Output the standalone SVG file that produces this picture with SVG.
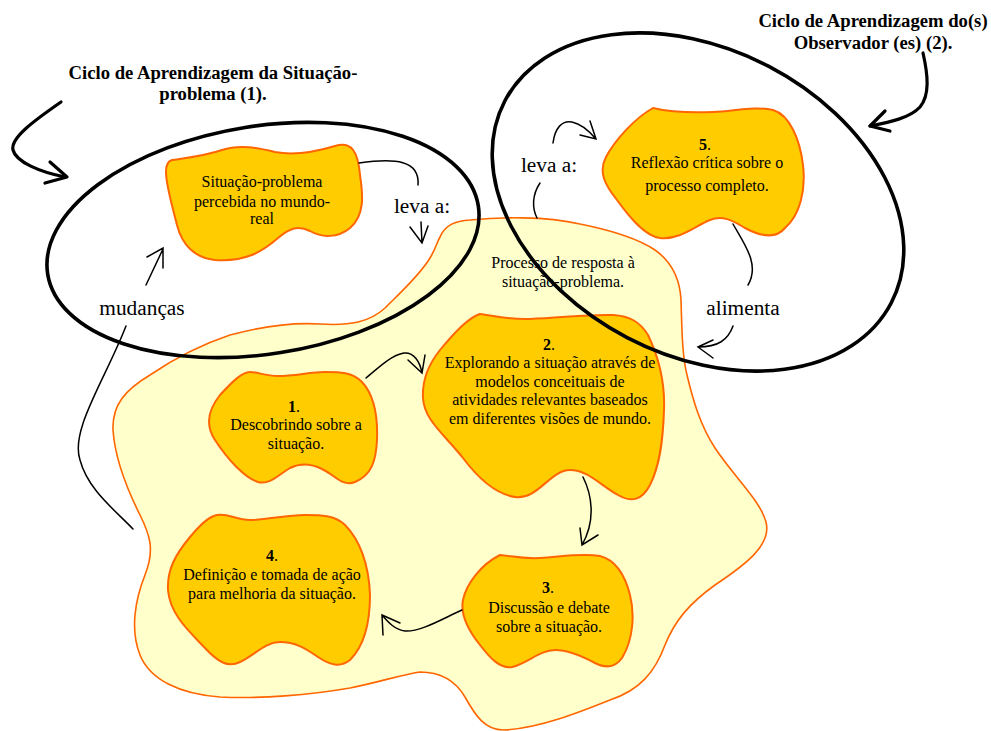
<svg xmlns="http://www.w3.org/2000/svg" width="991" height="731" viewBox="0 0 991 731">
<style>
.blob{fill:#FFCC00;stroke:#FF6600;stroke-width:2}
.pale{fill:#FFFFCC;stroke:#FF6600;stroke-width:1.6}
.ring{fill:none;stroke:#000;stroke-width:3.6}
.con{fill:none;stroke:#000;stroke-width:1.5;stroke-linecap:round}
.thick{fill:none;stroke:#000;stroke-width:3.2;stroke-linecap:round;stroke-linejoin:round}
.t{font-family:"Liberation Serif","Times New Roman",serif;font-size:16px;fill:#000;text-anchor:middle}
.lbl{font-family:"Liberation Serif","Times New Roman",serif;font-size:21.33px;fill:#000;text-anchor:middle}
.title{font-family:"Liberation Serif","Times New Roman",serif;font-size:18.67px;font-weight:bold;fill:#000;text-anchor:middle}
.b{font-weight:bold}
</style>
<rect width="991" height="731" fill="#fff"/>

<g id="processo">
<path class="pale" d="M440,237 C445,225 455,221 470,220 C500,217 545,216 580,224 C615,231 640,240 655,250 C672,262 680,280 681,300 C682,330 682,355 687,375 C693,400 700,425 715,448 C735,478 760,500 766,522 C772,545 745,565 715,585 C690,603 675,620 665,645 C655,672 640,690 610,700 C580,712 540,728 505,730 C485,731 475,715 465,697 C455,680 440,672 420,672 C400,675 380,682 350,688 C310,695 260,699 220,697 C180,694 150,680 140,655 C130,630 135,600 145,575 C155,550 150,535 140,515 C130,495 115,460 113,430 C112,405 125,390 150,375 C175,358 200,345 230,335 C260,327 290,322 320,324 C350,326 370,322 385,308 C400,293 420,275 430,258 C436,248 437,242 440,237 Z"/>
<text class="t" x="563" y="268">Processo de resposta à</text>
<text class="t" x="563" y="287">situação-problema.</text>
</g>

<g id="situacao">
<path class="blob" d="M172,160 C185,158 205,156 222,150 C240,144 258,148 275,152 C295,156 315,152 335,146 C352,141 358,152 360,175 C363,195 365,215 350,228 C338,238 322,238 310,231 C298,225 290,228 278,238 C262,252 245,262 215,260 C195,258 182,245 177,225 C172,205 166,185 166,172 C166,164 168,161 172,160 Z"/>
<text class="t" x="262" y="187">Situação-problema</text>
<text class="t" x="262" y="207">percebida no mundo-</text>
<text class="t" x="262" y="224">real</text>
</g>

<g id="n5">
<path class="blob" d="M653,108 C670,112 690,113 713,112 C735,111 755,106 773,110 C790,115 800,140 803,165 C806,190 800,215 785,228 C775,240 760,236 745,228 C732,220 722,215 710,220 C695,226 680,240 660,238 C645,236 630,218 617,200 C605,185 598,172 606,157 C615,140 635,118 653,108 Z"/>
<text class="t" x="705" y="150"><tspan class="b">5</tspan>.</text>
<text class="t" x="707" y="168">Reflexão crítica sobre o</text>
<text class="t" x="707" y="191">processo completo.</text>
</g>

<g id="n2">
<path class="blob" d="M480,314 C495,316 510,320 530,319 C560,318 590,314 613,315 C630,316 640,322 648,335 C660,360 665,385 664,410 C663,440 660,465 650,485 C642,500 632,503 618,495 C600,485 588,470 570,470 C550,470 538,500 515,497 C495,494 478,478 463,458 C445,435 424,420 423,398 C422,380 428,365 440,350 C455,332 468,318 480,314 Z"/>
<text class="t" x="549" y="350"><tspan class="b">2</tspan>.</text>
<text class="t" x="550" y="368">Explorando a situação através de</text>
<text class="t" x="550" y="387">modelos conceituais de</text>
<text class="t" x="550" y="405">atividades relevantes baseados</text>
<text class="t" x="550" y="424">em diferentes visões de mundo.</text>
</g>

<g id="n1">
<path class="blob" d="M250,372 C258,372 265,376 278,376 C295,376 310,372 325,372 C340,372 352,372 362,382 C374,395 378,415 377,440 C376,460 372,475 355,482 C342,487 335,475 322,469 C310,463 300,463 290,468 C278,475 270,485 258,482 C245,478 228,460 215,440 C205,425 208,410 220,395 C232,382 242,372 250,372 Z"/>
<text class="t" x="294" y="412"><tspan class="b">1</tspan>.</text>
<text class="t" x="296" y="430">Descobrindo sobre a</text>
<text class="t" x="296" y="449">situação.</text>
</g>

<g id="n4">
<path class="blob" d="M217,515 C228,513 236,520 250,520 C268,520 285,515 305,515 C320,515 335,515 345,525 C360,540 369,565 370,595 C370,620 365,645 350,660 C340,668 330,665 318,657 C305,648 295,642 280,642 C265,642 255,655 240,662 C228,668 218,662 205,648 C190,632 170,615 168,590 C167,570 175,555 190,537 C200,525 208,517 217,515 Z"/>
<text class="t" x="272" y="561"><tspan class="b">4</tspan>.</text>
<text class="t" x="272" y="580">Definição e tomada de ação</text>
<text class="t" x="272" y="599">para melhoria da situação.</text>
</g>

<g id="n3">
<path class="blob" d="M500,555 C512,556 522,559 540,558 C560,557 580,553 600,556 C615,560 625,575 630,595 C635,615 633,640 622,658 C615,668 605,668 595,663 C580,655 568,650 555,650 C540,650 528,663 512,667 C500,669 490,658 480,645 C468,630 460,615 463,600 C466,585 480,565 500,555 Z"/>
<text class="t" x="548" y="593"><tspan class="b">3</tspan>.</text>
<text class="t" x="549" y="613">Discussão e debate</text>
<text class="t" x="549" y="632">sobre a situação.</text>
</g>

<g id="ciclo1">
<ellipse class="ring" cx="263" cy="240" rx="218" ry="114" transform="rotate(-9 263 240)"/>
<text class="title" x="213" y="79">Ciclo de Aprendizagem da Situação-</text>
<text class="title" x="213" y="100">problema (1).</text>
</g>

<g id="ciclo2">
<ellipse class="ring" cx="698" cy="202" rx="218" ry="153" transform="rotate(27.6 698 202)"/>
<text class="title" x="873" y="27">Ciclo de Aprendizagem do(s)</text>
<text class="title" x="873" y="49">Observador (es) (2).</text>
</g>

<g id="labels">
<text class="lbl" x="422" y="213">leva a:</text>
<text class="lbl" x="142" y="315">mudanças</text>
<text class="lbl" x="549" y="172">leva a:</text>
<text class="lbl" x="743" y="315">alimenta</text>
</g>

<g id="connectors">
<path class="thick" d="M61,102 C35,120 10,138 13,150 C16,162 40,172 65,177"/>
<path class="thick" d="M50,162 L67,177 L45,183"/>
<path class="thick" d="M923,53 C928,75 930,95 920,107 C910,118 890,122 870,126"/>
<path class="thick" d="M885,111 L870,126 L890,131"/>
<path class="con" d="M359,163 C395,158 420,160 418,185"/>
<path class="con" d="M421,222 L422,243 M410,227 L422,243 L428,226"/>
<path class="con" d="M146,285 L163,249 M147,257 L163,248 L163,268"/>
<path class="con" d="M126,326 C105,380 70,430 80,460 C88,490 115,510 133,529"/>
<path class="con" d="M553,143 C555,128 562,120 572,122 C582,124 590,132 596,139 M580,135 L596,139 L590,121"/>
<path class="con" d="M540,183 C532,195 532,208 537,218"/>
<path class="con" d="M733,224 C745,245 760,265 748,285"/>
<path class="con" d="M733,326 C728,340 718,347 698,347 M713,340 L698,347 L713,358"/>
<path class="con" d="M366,378 C380,366 392,355 404,353 C414,352 420,362 422,373 M408,360 L422,373 L425,355"/>
<path class="con" d="M583,477 C592,495 596,520 582,545 M580,528 L582,545 L598,535"/>
<path class="con" d="M462,610 C440,620 420,632 405,631 C395,630 388,622 382,615 M400,623 L382,615 L383,635"/>
</g>
</svg>
